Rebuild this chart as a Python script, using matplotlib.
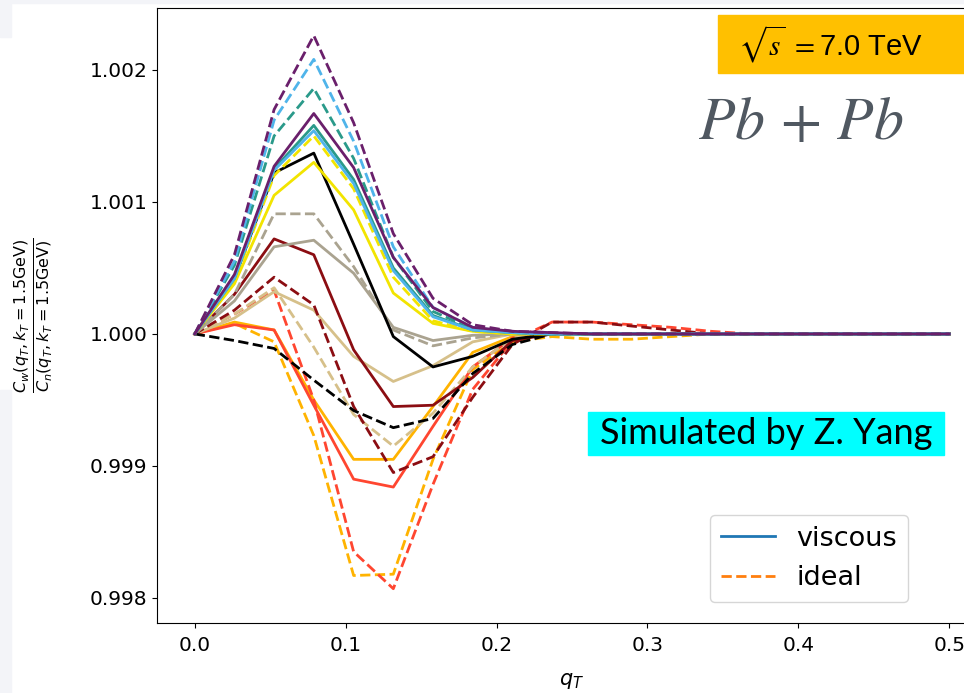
import numpy as np
import matplotlib
matplotlib.use("Agg")
import matplotlib.pyplot as plt
from matplotlib.lines import Line2D
from matplotlib.patches import Rectangle

# q_T grid (20 points between 0 and 0.5)
q_T = [0.0, 0.0263, 0.0526, 0.0789, 0.1053, 0.1316, 0.1579, 0.1842, 0.2105, 0.2368,
       0.2632, 0.2895, 0.3158, 0.3421, 0.3684, 0.3947, 0.4211, 0.4474, 0.4737, 0.5]

# deviation from 1, in units of 1e-3 (solid = viscous, dashed = ideal)
purple_visc = [0, 0.45, 1.27, 1.67, 1.26, 0.58, 0.20, 0.05, 0.02, 0.01, 0, 0, 0, 0, 0, 0, 0, 0, 0, 0]
purple_ideal = [0, 0.60, 1.70, 2.26, 1.60, 0.76, 0.27, 0.07, 0.02, 0.01, 0, 0, 0, 0, 0, 0, 0, 0, 0, 0]
lblue_ideal = [0, 0.55, 1.62, 2.08, 1.46, 0.66, 0.20, 0.05, 0.01, 0, 0, 0, 0, 0, 0, 0, 0, 0, 0, 0]
lblue_visc = [0, 0.42, 1.24, 1.54, 1.14, 0.48, 0.13, 0.03, 0.01, 0, 0, 0, 0, 0, 0, 0, 0, 0, 0, 0]
teal_ideal = [0, 0.52, 1.50, 1.86, 1.33, 0.58, 0.17, 0.04, 0.01, 0, 0, 0, 0, 0, 0, 0, 0, 0, 0, 0]
teal_visc = [0, 0.42, 1.25, 1.58, 1.17, 0.50, 0.14, 0.03, 0.01, 0, 0, 0, 0, 0, 0, 0, 0, 0, 0, 0]
black_visc = [0, 0.42, 1.22, 1.37, 0.68, -0.02, -0.25, -0.17, -0.04, 0, 0, 0, 0, 0, 0, 0, 0, 0, 0, 0]
black_ideal = [0, -0.05, -0.11, -0.35, -0.58, -0.71, -0.64, -0.30, -0.08, 0, 0, 0, 0, 0, 0, 0, 0, 0, 0, 0]
yellow_visc = [0, 0.38, 1.05, 1.30, 0.94, 0.31, 0.08, 0.02, 0, 0, 0, 0, 0, 0, 0, 0, 0, 0, 0, 0]
yellow_ideal = [0, 0.40, 1.20, 1.50, 1.10, 0.43, 0.10, 0.02, 0, 0, 0, 0, 0, 0, 0, 0, 0, 0, 0, 0]
gray_visc = [0, 0.25, 0.66, 0.71, 0.46, 0.05, -0.05, -0.01, 0, 0, 0, 0, 0, 0, 0, 0, 0, 0, 0, 0]
gray_ideal = [0, 0.30, 0.91, 0.91, 0.51, 0.03, -0.09, -0.03, 0, 0, 0, 0, 0, 0, 0, 0, 0, 0, 0, 0]
dred_visc = [0, 0.30, 0.72, 0.60, -0.12, -0.55, -0.54, -0.33, -0.05, 0, 0, 0, 0, 0, 0, 0, 0, 0, 0, 0]
dred_ideal = [0, 0.18, 0.43, 0.22, -0.55, -1.05, -0.93, -0.48, -0.08, 0.09, 0.09, 0.06, 0.03, 0, 0, 0, 0, 0, 0, 0]
tan_visc = [0, 0.12, 0.32, 0.18, -0.17, -0.36, -0.24, -0.06, 0, 0, 0, 0, 0, 0, 0, 0, 0, 0, 0, 0]
tan_ideal = [0, 0.15, 0.35, -0.10, -0.61, -0.85, -0.60, -0.25, -0.03, 0, 0, 0, 0, 0, 0, 0, 0, 0, 0, 0]
orange_visc = [0, 0.09, 0.03, -0.50, -0.95, -0.95, -0.55, -0.14, -0.02, 0, 0, 0, 0, 0, 0, 0, 0, 0, 0, 0]
orange_ideal = [0, 0.08, -0.06, -0.77, -1.83, -1.82, -0.95, -0.27, -0.06, -0.02, -0.04, -0.04, -0.02, 0, 0, 0, 0, 0, 0, 0]
red_visc = [0, 0.07, 0.03, -0.54, -1.10, -1.16, -0.70, -0.25, -0.03, 0, 0, 0, 0, 0, 0, 0, 0, 0, 0, 0]
red_ideal = [0, 0.15, 0.33, -0.50, -1.65, -1.93, -1.14, -0.42, -0.05, 0.09, 0.09, 0.07, 0.05, 0.02, 0, 0, 0, 0, 0, 0]

# (viscous, ideal, colour) drawn bottom to top
pairs = [
    (orange_visc, orange_ideal, '#ffb300'),
    (red_visc, red_ideal, '#ff4630'),
    (tan_visc, tan_ideal, '#d6c08a'),
    (dred_visc, dred_ideal, '#8b0d12'),
    (gray_visc, gray_ideal, '#aaa390'),
    (black_visc, black_ideal, 'black'),
    (yellow_visc, yellow_ideal, '#f2e400'),
    (teal_visc, teal_ideal, '#2a9a8a'),
    (lblue_visc, lblue_ideal, '#4fb4ea'),
    (purple_visc, purple_ideal, '#6a1f6b'),
]

fig = plt.figure(figsize=(9.64, 6.93), dpi=100)

# screenshot background bits
fig.patches.append(Rectangle((0, 1 - 3 / 693), 1, 3 / 693, transform=fig.transFigure,
                             color='#f3f4f8', zorder=0))
fig.patches.append(Rectangle((0, 1 - 37 / 693), 11 / 964, 37 / 693, transform=fig.transFigure,
                             color='#f3f4f8', zorder=0))
fig.patches.append(Rectangle((0, 0), 11 / 964, 303 / 693, transform=fig.transFigure,
                             color='#f3f4f8', zorder=0))

ax = fig.add_axes([157 / 964, 1 - 622.5 / 693, (987 - 157) / 964, (622.5 - 8.3) / 693])

x = np.array(q_T)
for visc, ideal, col in pairs:
    ax.plot(x, 1 + np.array(visc) / 1000, '-', color=col, lw=2.0)
    ax.plot(x, 1 + np.array(ideal) / 1000, '--', color=col, lw=2.0)

ax.set_xlim(-0.025, 0.525)
ax.set_ylim(0.997814, 1.002467)
ax.set_xticks([0.0, 0.1, 0.2, 0.3, 0.4, 0.5])
ax.set_xticklabels(['0.0', '0.1', '0.2', '0.3', '0.4', '0.5'])
ax.set_yticks([0.998, 0.999, 1.000, 1.001, 1.002])
ax.set_yticklabels(['0.998', '0.999', '1.000', '1.001', '1.002'])
ax.tick_params(labelsize=14.5)
ax.tick_params(axis='x', pad=6)
ax.set_xlabel('$q_T$', fontsize=15, labelpad=12)
ax.set_ylabel(r'$\frac{C_w(q_T,k_T=1.5\mathrm{GeV})}{C_n(q_T,k_T=1.5\mathrm{GeV})}$', fontsize=16.5)
ax.yaxis.set_label_coords((55 - 157) / 830, 0.5)

handles = [Line2D([], [], color='tab:blue', lw=2.0, ls='-'),
           Line2D([], [], color='tab:orange', lw=2.0, ls='--')]
ax.legend(handles, ['viscous', 'ideal'], fontsize=19.5, loc='lower left', borderaxespad=0,
          bbox_to_anchor=(710 / 964, 1 - 602 / 693), bbox_transform=fig.transFigure)

# energy box
fig.patches.append(Rectangle((718 / 964, 1 - 73 / 693), 1 - 718 / 964, 58 / 693,
                             transform=fig.transFigure, color='#ffc000', zorder=3))
fig.text(738 / 964, 1 - 44 / 693, r'$\sqrt{s}\ =$7.0 TeV', fontsize=21, va='center',
         family='Liberation Sans', math_fontfamily='stix', zorder=4)

fig.text(698 / 964, 1 - 122 / 693, r'$Pb\,+\,Pb$', fontsize=43, va='center',
         math_fontfamily='stix', color='#505861')

# credit box
fig.patches.append(Rectangle((588 / 964, 1 - 455 / 693), (944 - 588) / 964, 43 / 693,
                             transform=fig.transFigure, color='#00ffff', zorder=3))
fig.text(766 / 964, 1 - 433 / 693, 'Simulated by Z. Yang', fontsize=26, va='center',
         ha='center', family='Lato', zorder=4)

fig.savefig('out.png', dpi=100)
